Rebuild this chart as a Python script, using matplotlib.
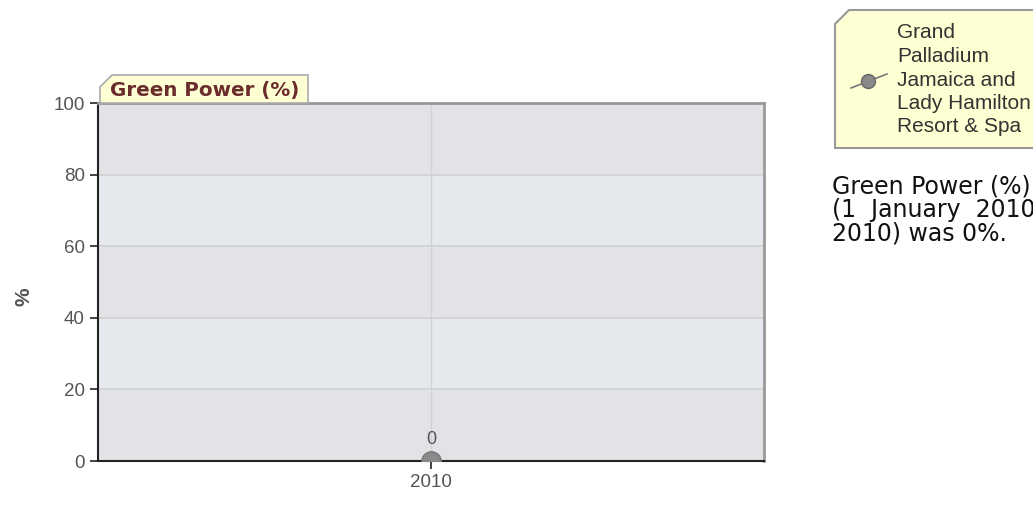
import matplotlib
matplotlib.use("Agg")
import matplotlib.pyplot as plt
from matplotlib.patches import Polygon
from matplotlib.lines import Line2D

# =========================
# Data
# =========================

years = ["2010"]
green_power = [0]
series_name = "Grand\nPalladium\nJamaica and\nLady Hamilton\nResort & Spa"
y_ticks = [0, 20, 40, 60, 80, 100]

plt.rcParams['font.family'] = ['Liberation Sans', 'DejaVu Sans']

W, H = 1033, 519
fig = plt.figure(figsize=(W / 100, H / 100), dpi=100)

def fx(px):
    return px / W

def fy(py):
    return 1 - py / H

# =========================
# Plot area
# =========================

left, right, top, bottom = 98, 764, 103, 461
ax = fig.add_axes([fx(left), fy(bottom), fx(right - left), (bottom - top) / H])

# alternating bands
for i in range(len(y_ticks) - 1):
    c = '#e2e3e6' if i % 2 == 0 else '#e5e9ed'
    ax.axhspan(y_ticks[i], y_ticks[i + 1], color=c, zorder=0, lw=0)

ax.set_ylim(0, 100)
ax.set_xlim(-0.5, 0.5)
ax.set_yticks(y_ticks)
ax.set_xticks(range(len(years)))
ax.set_xticklabels(years)

for y in y_ticks[1:-1]:
    ax.axhline(y, color='#d2d2d2', lw=1.2, zorder=1)
ax.axvline(0, color='#d2d2d2', lw=1, zorder=1)

ax.plot(range(len(years)), green_power, 'o', color='#8a8a8a', ms=14,
        mec='#777777', zorder=3, clip_on=True)
for i, v in enumerate(green_power):
    ax.annotate(str(v), (i, v), xytext=(0, 9), textcoords='offset points',
                ha='center', va='bottom', fontsize=13, color='#555555')

for s in ['top', 'right']:
    ax.spines[s].set_color('#999999')
    ax.spines[s].set_linewidth(2)
for s in ['left', 'bottom']:
    ax.spines[s].set_color('#222222')
    ax.spines[s].set_linewidth(1.5)

ax.tick_params(axis='both', colors='#222222', labelcolor='#555555',
               labelsize=13.5, length=6, width=1.2)

fig.text(fx(24), fy(297), '%', rotation=90, fontsize=15, color='#555555',
         fontweight='bold', ha='center', va='center')

# =========================
# Title tab
# =========================

tx0, tx1, ty0, ty1, cut = 100, 308, 75, 103, 12
title_box = Polygon([(fx(tx0), fy(ty1)), (fx(tx0), fy(ty0 + cut)),
                     (fx(tx0 + cut), fy(ty0)), (fx(tx1), fy(ty0)),
                     (fx(tx1), fy(ty1))],
                    closed=True, transform=fig.transFigure,
                    facecolor='#ffffd4', edgecolor='#aaaaaa', lw=1.2, zorder=5)
fig.patches.append(title_box)
fig.text(fx(110), fy(96), 'Green Power (%)', fontsize=14.3, fontweight='bold',
         color='#6b2c2c', va='baseline', ha='left', zorder=6,
         family=['DejaVu Sans'])

# =========================
# Legend box
# =========================

lx0, lx1, ly0, ly1, lcut = 835, 1040, 10, 148, 14
legend_box = Polygon([(fx(lx0), fy(ly1)), (fx(lx0), fy(ly0 + lcut)),
                      (fx(lx0 + lcut), fy(ly0)), (fx(lx1), fy(ly0)),
                      (fx(lx1), fy(ly1))],
                     closed=True, transform=fig.transFigure,
                     facecolor='#ffffd4', edgecolor='#999999', lw=1.5, zorder=5)
fig.patches.append(legend_box)
fig.lines.append(Line2D([fx(851), fx(887)], [fy(88), fy(74)],
                        transform=fig.transFigure, color='#777777', lw=1.2, zorder=6))
fig.lines.append(Line2D([fx(868)], [fy(81)], transform=fig.transFigure,
                        marker='o', ms=10, color='#8a8a8a', mec='#666666', zorder=7))
fig.text(fx(897), fy(80), series_name, fontsize=15, color='#333333',
         va='center', ha='left', linespacing=1.3, zorder=6)

# =========================
# Description text
# =========================

fig.text(fx(832), fy(210), "Green Power (%) for\n(1  January  2010 -\n2010) was 0%.",
         fontsize=17, color='#111111', va='center', ha='left',
         linespacing=0.98, family=['DejaVu Sans'])

fig.savefig('out.png', dpi=100)
